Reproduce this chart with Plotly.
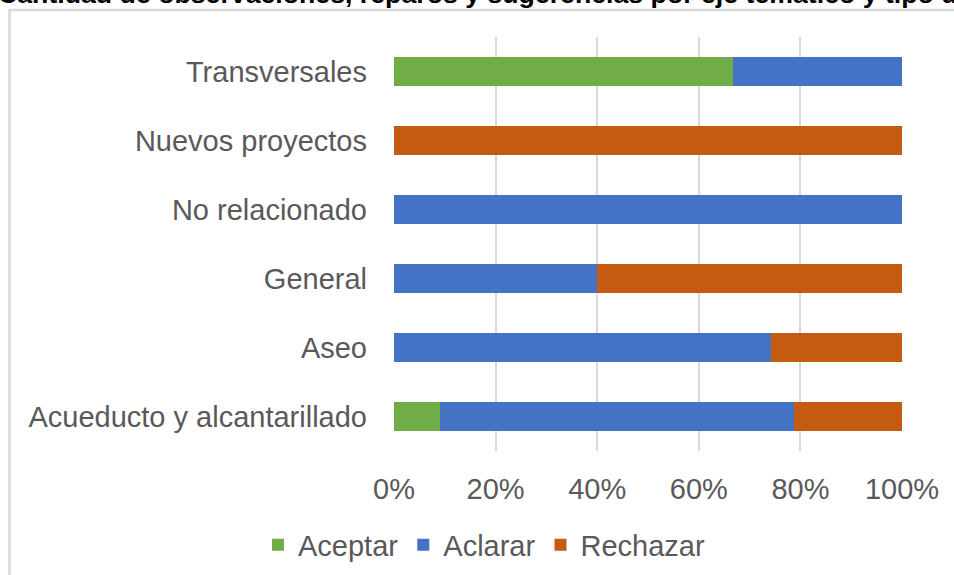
import plotly.graph_objects as go

categories = ["Acueducto y alcantarillado", "Aseo", "General", "No relacionado",
              "Nuevos proyectos", "Transversales"]
aceptar = [9.1, 0, 0, 0, 0, 66.7]
aclarar = [69.7, 74.3, 40.0, 100.0, 0, 33.3]
rechazar = [21.2, 25.7, 60.0, 0, 100.0, 0]
series = [("Aceptar", aceptar, "#70AD47"),
          ("Aclarar", aclarar, "#4472C4"),
          ("Rechazar", rechazar, "#C55A11")]
x_ticks = [0, 20, 40, 60, 80, 100]
x_ticklabels = ["0%", "20%", "40%", "60%", "80%", "100%"]
title_text = "Cantidad de observaciones, reparos y sugerencias por eje temático y tipo de respuesta"

W, H = 954, 575
L, R, T, B = 394, 52, 37, 124
pw, ph = W - L - R, H - T - B

def px_x(p):
    return (p - L) / pw

def px_y(p):
    return (H - B - p) / ph

FONT = "Liberation Sans, Arial, sans-serif"
GREY = "#595959"

fig = go.Figure()
for name, vals, col in series:
    fig.add_trace(go.Bar(y=categories, x=vals, name=name, orientation="h",
                         marker=dict(color=col, line=dict(width=0))))

fig.update_layout(
    width=W, height=H,
    margin=dict(l=L, r=R, t=T, b=B, autoexpand=False),
    barmode="stack", bargap=0.58,
    paper_bgcolor="white", plot_bgcolor="white",
    font=dict(family=FONT, size=29, color=GREY),
    showlegend=True,
    legend=dict(orientation="h", x=px_x(484), xanchor="center",
                y=px_y(545), yanchor="middle",
                font=dict(family=FONT, size=29, color=GREY),
                itemwidth=30, traceorder="normal", tracegroupgap=0),
    xaxis=dict(range=[0, 100], tickvals=x_ticks, ticktext=x_ticklabels,
               showgrid=True, gridcolor="#D9D9D9", gridwidth=2,
               zeroline=False, showline=False, ticks="",
               ticklabelstandoff=18,
               tickfont=dict(family=FONT, size=29, color=GREY)),
    yaxis=dict(showgrid=False, zeroline=False, showline=False, ticks="",
               ticklabelstandoff=26,
               tickfont=dict(family=FONT, size=29, color=GREY)),
)

# clipped title at the top
fig.add_annotation(text="<b>" + title_text + "</b>", xref="paper", yref="paper",
                   x=px_x(-4), y=px_y(11), xanchor="left", yanchor="bottom",
                   showarrow=False,
                   font=dict(family=FONT, size=26.7, color="black"))

# chart-area border (left and top)
fig.add_shape(type="line", xref="paper", yref="paper",
              x0=px_x(9.5), x1=px_x(9.5), y0=px_y(10), y1=px_y(590),
              line=dict(color="#D9D9D9", width=2.5))
fig.add_shape(type="line", xref="paper", yref="paper",
              x0=px_x(8.5), x1=px_x(970), y0=px_y(10), y1=px_y(10),
              line=dict(color="#D9D9D9", width=2.5))

fig.write_html("out.html", config={"displayModeBar": False},
               post_script="document.body.style.margin='0';document.body.style.overflow='hidden';")
